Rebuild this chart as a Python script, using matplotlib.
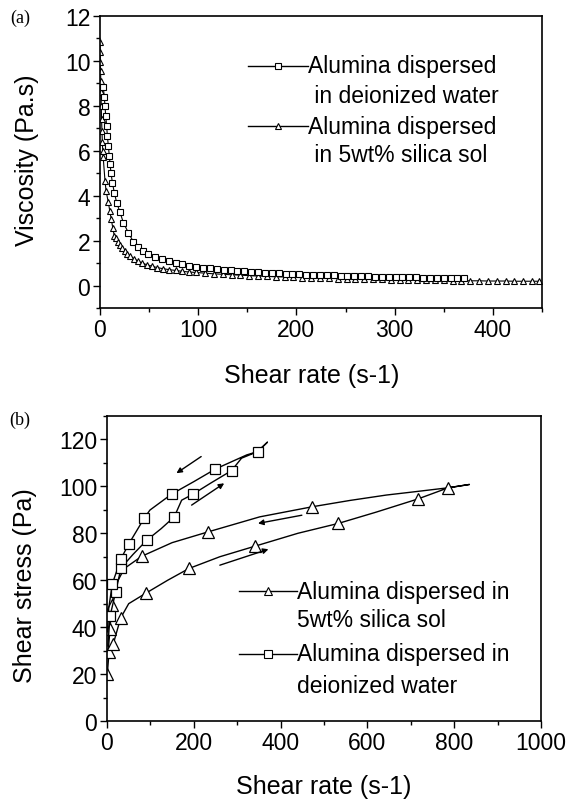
import matplotlib
matplotlib.use("Agg")
import matplotlib.pyplot as plt
from matplotlib.ticker import MultipleLocator

plt.rcParams['font.family'] = ['Liberation Sans', 'DejaVu Sans']

# ---- (a) viscosity vs shear rate ----
water_a_x = [3.4, 4.4, 5.1, 5.8, 6.8, 7.5, 8.5, 9.5, 10.3, 11.2, 12.6, 14.6, 17, 20.4, 23.8,
             28.9, 34, 39, 44, 49, 56, 63, 70, 77, 84, 91, 98, 105, 112, 119, 126, 133, 140,
             147, 154, 161, 168, 175, 182, 189, 196, 203, 210, 217, 224, 231, 238, 245, 252,
             259, 266, 273, 280, 287, 294, 301, 308, 315, 322, 329, 336, 343, 350, 357, 364, 371]
water_a_y = [8.83, 8.38, 8.0, 7.56, 7.11, 6.67, 6.22, 5.77, 5.4, 5.03, 4.58, 4.14, 3.69, 3.26, 2.8,
             2.35, 1.95, 1.72, 1.55, 1.4, 1.27, 1.18, 1.08, 1.0, 0.94, 0.88, 0.84, 0.8, 0.76, 0.73,
             0.7, 0.67, 0.65, 0.63, 0.61, 0.59, 0.57, 0.56, 0.54, 0.53, 0.52, 0.5, 0.49, 0.48, 0.47,
             0.46, 0.45, 0.44, 0.43, 0.42, 0.42, 0.41, 0.4, 0.39, 0.39, 0.38, 0.37, 0.37, 0.36,
             0.35, 0.35, 0.34, 0.34, 0.33, 0.33, 0.32]

silica_a_x = [0, 0.2, 0.4, 0.6, 0.8, 1.0, 1.3, 1.6, 2.0, 2.4, 2.8, 3.3, 5.1, 6.2, 8.5, 10, 11.5,
              13, 14.6, 16, 18, 20, 22, 25, 28, 31, 35, 39, 43, 48, 53, 58, 64, 70, 77, 84, 91,
              98, 107, 116, 125, 134, 143, 152, 161, 170, 179, 188, 197, 206, 215, 224, 233,
              242, 251, 260, 269, 278, 287, 296, 305, 314, 323, 332, 341, 350, 359, 368, 377,
              386, 395, 404, 413, 422, 431, 440, 447]
silica_a_y = [10.83, 10.4, 9.94, 9.57, 9.12, 8.6, 8.0, 7.4, 6.9, 6.4, 6.0, 5.7, 4.66, 4.21, 3.7,
              3.32, 2.95, 2.58, 2.2, 2.1, 1.95, 1.8, 1.68, 1.55, 1.42, 1.3, 1.18, 1.08, 1.0,
              0.92, 0.86, 0.8, 0.75, 0.71, 0.67, 0.63, 0.6, 0.58, 0.55, 0.52, 0.5, 0.48, 0.46,
              0.44, 0.42, 0.41, 0.39, 0.38, 0.37, 0.35, 0.34, 0.33, 0.32, 0.31, 0.3, 0.29, 0.28,
              0.28, 0.27, 0.26, 0.25, 0.25, 0.24, 0.24, 0.23, 0.23, 0.22, 0.22, 0.21, 0.21, 0.2,
              0.2, 0.2, 0.19, 0.19, 0.19, 0.19]

# ---- (b) shear stress loops (ramp up then ramp down) ----
silica_b_x = [0.8, 4.6, 14.6, 31.5, 50, 89, 140, 189, 260, 341, 440, 533, 620, 716, 786.5, 835,
              786.5, 700, 644, 560, 473, 352, 233, 150, 80, 40, 20, 10.8, 6.9, 3]
silica_b_y = [20.1, 29.3, 32.9, 43.9, 50, 54.4, 60, 65, 70, 74.5, 80, 84.2, 89, 94.6, 99.4, 100.8,
              99.4, 97.5, 96.3, 94, 91.3, 87, 80.6, 76, 70.2, 65, 58, 49.3, 39.3, 30]
silica_b_marks = [0, 1, 2, 3, 5, 7, 9, 11, 13, 14, 20, 22, 24, 27, 28]

water_b_x = [2, 6.9, 20, 32.3, 60, 91.4, 125, 155, 172, 197.4, 240, 287, 310, 347, 369.5,
             347, 322, 250, 200, 149, 99, 85.3, 50.7, 32.3, 12.3, 4, 1]
water_b_y = [32, 44.6, 55, 65.2, 71, 77, 82, 87, 94.1, 96.6, 101.5, 106.7, 112, 114.8, 118.8,
             114.8, 113.4, 107.4, 102, 96.7, 89.9, 86.3, 75.6, 69.2, 58.5, 48, 38]
water_b_marks = [1, 2, 3, 5, 7, 9, 11, 13, 17, 19, 21, 22, 23, 24]

# arrows (tail x, tail y, head x, head y)
arrows_b = [(217, 112.7, 160, 105.6), (195, 92, 270, 101.3),
            (449, 87.7, 348, 84.2), (260, 66.4, 372, 73.2)]

label_a1 = "Alumina dispersed"
label_a1b = " in deionized water"
label_a2 = "Alumina dispersed"
label_a2b = " in 5wt% silica sol"
label_b1 = "Alumina dispersed in"
label_b1b = "5wt% silica sol"
label_b2 = "Alumina dispersed in"
label_b2b = "deionized water"

fig = plt.figure(figsize=(5.7, 8.04), dpi=100)
ax1 = fig.add_axes([0.1754, 0.6157, 0.7754, 0.3632])
ax2 = fig.add_axes([0.1877, 0.1020, 0.7614, 0.3794])

mk = dict(markerfacecolor='white', markeredgecolor='black', color='black')

ax1.plot(silica_a_x, silica_a_y, marker='^', ms=5, mew=0.8, lw=0.8, **mk)
ax1.plot(water_a_x, water_a_y, marker='s', ms=5, mew=0.8, lw=0.8, **mk)

ax2.plot(silica_b_x, silica_b_y, marker='^', ms=8, mew=0.9, lw=1.0,
         markevery=silica_b_marks, **mk)
ax2.plot(water_b_x, water_b_y, marker='s', ms=7.5, mew=0.9, lw=1.0,
         markevery=water_b_marks, **mk)
for x0, y0, x1, y1 in arrows_b:
    ax2.annotate("", xy=(x1, y1), xytext=(x0, y0),
                 arrowprops=dict(arrowstyle='-|>', color='black', lw=1.0,
                                 mutation_scale=8, shrinkA=0, shrinkB=0))

# axes styling
for ax in (ax1, ax2):
    for s in ax.spines.values():
        s.set_linewidth(1.2)
    ax.tick_params(which='both', direction='out', top=False, right=False,
                   labelsize=16.5, width=1.0)
    ax.tick_params(which='major', length=5, pad=2)
    ax.tick_params(which='minor', length=3)

ax1.set_xlim(0, 450)
ax1.set_ylim(-1, 12)
ax1.xaxis.set_major_locator(MultipleLocator(100))
ax1.xaxis.set_minor_locator(MultipleLocator(50))
ax1.yaxis.set_major_locator(MultipleLocator(2))
ax1.yaxis.set_minor_locator(MultipleLocator(1))
ax1.set_xlabel("Shear rate (s-1)", fontsize=18)
ax1.set_ylabel("Viscosity (Pa.s)", fontsize=18)
ax1.xaxis.set_label_coords(0.48, -0.19)
ax1.yaxis.set_label_coords(-0.138, 0.51)

ax2.set_xlim(0, 1000)
ax2.set_ylim(0, 130)
ax2.xaxis.set_major_locator(MultipleLocator(200))
ax2.xaxis.set_minor_locator(MultipleLocator(100))
ax2.yaxis.set_major_locator(MultipleLocator(20))
ax2.yaxis.set_minor_locator(MultipleLocator(10))
ax2.set_xlabel("Shear rate (s-1)", fontsize=18)
ax2.set_ylabel("Shear stress (Pa)", fontsize=18)
ax2.xaxis.set_label_coords(0.5, -0.175)
ax2.yaxis.set_label_coords(-0.162, 0.446)


def legend_row(ax, x0, x1, y, marker, ms, text, text2, dy):
    ax.plot([x0, (x0 + x1) / 2, x1], [y, y, y], transform=ax.transAxes, marker=marker,
            ms=ms, mew=0.8, lw=1.0, markevery=[1], clip_on=False, **mk)
    ax.text(x1, y, text, transform=ax.transAxes, fontsize=16.5, va='center', ha='left')
    ax.text(x1, y - dy, text2, transform=ax.transAxes, fontsize=16.5, va='center', ha='left')


legend_row(ax1, 0.335, 0.471, 0.829, 's', 4, label_a1, label_a1b, 0.103)
legend_row(ax1, 0.335, 0.471, 0.623, '^', 4, label_a2, label_a2b, 0.096)
legend_row(ax2, 0.304, 0.438, 0.426, '^', 6, label_b1, label_b1b, 0.092)
legend_row(ax2, 0.304, 0.438, 0.220, 's', 6, label_b2, label_b2b, 0.105)

fig.text(0.035, 1 - 18 / 804, "(a)", family=['Liberation Serif'], fontsize=13,
         ha='center', va='center')
fig.text(0.035, 1 - 420 / 804, "(b)", family=['Liberation Serif'], fontsize=13,
         ha='center', va='center')

fig.savefig("out.png", dpi=100)
